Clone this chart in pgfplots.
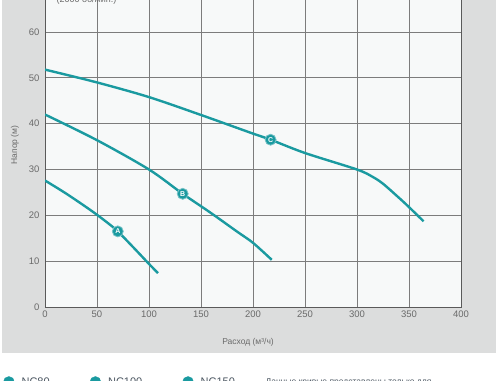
\documentclass[border=0pt]{standalone}
\usepackage{fontspec}
\setmainfont{Liberation Sans}
\usepackage{pgfplots}
\pgfplotsset{compat=1.18}
\definecolor{panel}{HTML}{DCDDDD}
\definecolor{plotbg}{HTML}{F7F9F9}
\definecolor{gridc}{HTML}{7C7C7C}
\definecolor{axisc}{HTML}{5A5A5A}
\definecolor{curve}{HTML}{1A9AA0}
\definecolor{txt}{HTML}{6A6A6A}
\definecolor{txtdark}{HTML}{4A5560}
\begin{document}
\begin{tikzpicture}[x=1pt,y=1pt]
\path[use as bounding box] (0,0) rectangle (500,380);
\clip (0,0) rectangle (500,380);
\fill[panel] (2,27) rectangle (496,390);
\begin{axis}[
  at={(45pt,73pt)}, anchor=south west,
  scale only axis, width=416pt, height=320.8pt,
  xmin=0, xmax=400, ymin=0, ymax=70,
  xtick={0,50,...,400}, ytick={0,10,...,60},
  grid=major, major grid style={draw=gridc, line width=0.9pt},
  axis line style={draw=axisc, line width=1pt},
  tick style={draw=none},
  axis background/.style={fill=plotbg},
  ticklabel style={font=\fontsize{9.5}{10}\selectfont, text=txt},
  yticklabel style={xshift=-2pt},
  /pgf/number format/assume math mode=true,
  xlabel={Расход (м³/ч)}, ylabel={Напор (м)},
  label style={font=\fontsize{8.5}{10}\selectfont, text=txt},
  xlabel style={at={(axis description cs:0.488,-0.109)}, anchor=center},
  ylabel style={at={(axis description cs:-0.072,0.505)}, anchor=center},
  legend columns=3,
  legend cell align=left,
  legend style={at={(axis description cs:-0.101,-0.2338)}, anchor=west,
    draw=none, fill=none, inner sep=0pt,
    font=\fontsize{11}{12}\selectfont, text=txtdark,
    /tikz/every odd column/.append style={column sep=5pt},
    /tikz/every even column/.append style={column sep=38pt}},
]
\addlegendimage{legend image code/.code={\fill[curve] (5pt,0pt) circle (5.5pt);}}
\addlegendentry{NC80}
\addlegendimage{legend image code/.code={\fill[curve] (5pt,0pt) circle (5.5pt);}}
\addlegendentry{NC100}
\addlegendimage{legend image code/.code={\fill[curve] (5pt,0pt) circle (5.5pt);}}
\addlegendentry{NC150}

% A (NC80)
\addplot[curve, line width=2.4pt, smooth, forget plot] coordinates {
 (0,27.6) (20,24.8) (43.4,21.2) (60,18.4) (70,16.5) (85,13.0) (100,9.4) (108.6,7.4)};
% B (NC100)
\addplot[curve, line width=2.4pt, smooth, forget plot] coordinates {
 (0,42.0) (50,36.4) (100,30.0) (132.4,24.7) (159,20.6) (185,16.4) (200,14.0) (218,10.3)};
% C (NC150)
\addplot[curve, line width=2.4pt, smooth, forget plot] coordinates {
 (0,51.8) (50,49.0) (100,45.8) (150,41.9) (198,38.0) (217,36.5) (250,33.6) (300,30.0)
 (315,28.4) (325,26.9) (340,23.9) (350,21.8) (364,18.7)};
% curve labels
\addplot[forget plot, only marks, mark=*, mark size=5.5pt,
  mark options={fill=curve, draw=curve!60!white, line width=0.8pt},
  nodes near coords, point meta=explicit symbolic,
  every node near coord/.append style={anchor=center, text=white,
    font=\fontsize{7}{7}\selectfont\bfseries}]
  coordinates {(70,16.5)[A] (132.4,24.7)[B] (216.9,36.5)[C]};
\end{axis}
\node[anchor=base west, font=\fontsize{9}{10}\selectfont, text=txt] at (53,377.5) {(2000 об/мин.)};
\node[anchor=base west, font=\fontsize{8.5}{10}\selectfont, text=txtdark] at (262,-4) {Данные кривые представлены только для};
\end{tikzpicture}
\end{document}
